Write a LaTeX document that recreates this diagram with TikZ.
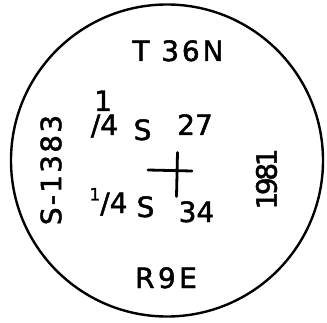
\documentclass[tikz,border=0pt]{standalone}
\usepackage{fontspec}
\setmainfont[FakeBold=1.6]{DejaVu Sans}
\begin{document}
\begin{tikzpicture}[x=1pt,y=1pt,
    rotulo/.style={font=\fontsize{28}{28}\selectfont, inner sep=0pt, anchor=base},
    marca/.style={line width=2.8pt, line cap=round}]
            \useasboundingbox (0,0) rectangle (327,322);
            % Borde del sello
            \draw[line width=2.4pt] (167,161.5) circle(156);
            % Municipio y rango
            \node[rotulo] (muni) at (178,261) {\addfontfeatures{LetterSpace=10}T 36N};
            \node[rotulo] (rango) at (166,34) {\addfontfeatures{LetterSpace=12}R9E};
            % Fila superior
            \node[rotulo] (fracA) at (104.5,187) {\makebox[0pt][l]{\kern.12em\raisebox{.86em}{1}}/4};
            \node[rotulo] (secA) at (142.5,182) {S};
            \node[rotulo] (numA) at (195,187) {27};
            % Fila inferior
            \node[rotulo] (fracB) at (108.5,109) {\raisebox{.45em}{\fontsize{17}{17}\selectfont 1}/4};
            \node[rotulo] (secB) at (145.5,105) {S};
            \node[rotulo] (numB) at (196.5,100) {34};
            % Esquina
            \coordinate (oeste) at (148,152);
            \coordinate (este) at (192,151);
            \coordinate (norte) at (177.5,169.5);
            \coordinate (sur) at (176.5,125.5);
            \draw[marca] (oeste) -- (este);
            \draw[marca] (norte) -- (sur);
            % Textos laterales
            \node[rotulo, anchor=center, rotate=90] (serie) at (51,152) {\addfontfeatures{LetterSpace=8}S-1383};
            \node[rotulo, anchor=center, rotate=90] (anio) at (266.5,143) {\addfontfeatures{LetterSpace=-12}1981};
        \end{tikzpicture}
\end{document}
